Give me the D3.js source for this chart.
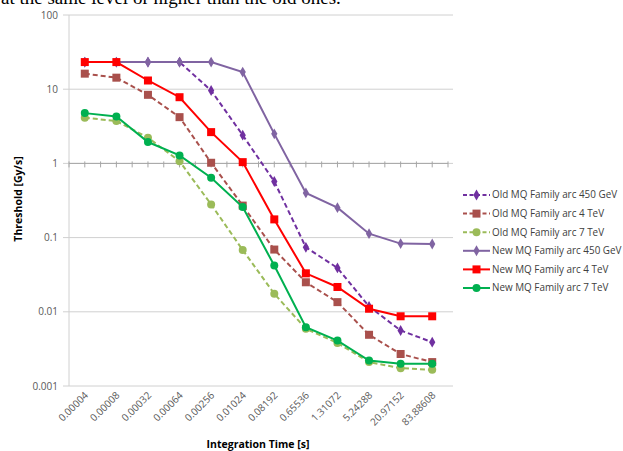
<!DOCTYPE html>
<html>
<head>
<meta charset="UTF-8">
<title>Threshold vs Integration Time</title>
<script src="https://d3js.org/d3.v7.min.js"></script>
<style>
  body { margin: 0; background: #fff; }
  svg { display: block; }
  .lbl { font-family: "Open Sans", "Liberation Sans", sans-serif; fill: #595959; font-size: 10px; }
</style>
</head>
<body>
<script>
// ===== DATA =====
var times = ["0.00004", "0.00008", "0.00032", "0.00064", "0.00256", "0.01024",
             "0.08192", "0.65536", "1.31072", "5.24288", "20.97152", "83.88608"];
var yTicks = [100, 10, 1, 0.1, 0.01, 0.001];
var yTickLabels = ["100", "10", "1", "0.1", "0.01", "0.001"];

var seriesNames = ["Old MQ Family arc 450 GeV", "Old MQ Family arc 4 TeV", "Old MQ Family arc 7 TeV",
                   "New MQ Family arc 450 GeV", "New MQ Family arc 4 TeV", "New MQ Family arc 7 TeV"];
var old450 = [23.2, 23.2, 23.2, 23.2, 9.6, 2.4, 0.57, 0.074, 0.039, 0.0118, 0.0056, 0.0039];
var old4   = [16.2, 14.3, 8.4, 4.2, 1.02, 0.27, 0.069, 0.025, 0.0135, 0.0049, 0.0027, 0.0021];
var old7   = [4.13, 3.72, 2.22, 1.07, 0.28, 0.068, 0.0175, 0.0059, 0.0038, 0.0021, 0.00174, 0.00165];
var new450 = [23.2, 23.2, 23.2, 23.2, 23.2, 17, 2.5, 0.40, 0.253, 0.113, 0.083, 0.082];
var new4   = [23.2, 23.2, 13.1, 7.8, 2.64, 1.04, 0.176, 0.033, 0.0216, 0.011, 0.0087, 0.0087];
var new7   = [4.76, 4.3, 1.94, 1.28, 0.64, 0.258, 0.042, 0.0062, 0.0041, 0.0022, 0.0020, 0.0020];

var seriesValues = [old450, old4, old7, new450, new4, new7];
var colors = ["#7030A0", "#A9504C", "#9BBB59", "#8064A2", "#FF0000", "#00B050"];
var dashed = [true, true, true, false, false, false];
var markers = ["diamond", "square", "circle", "diamond", "square", "circle"];

var W = 623, H = 451;
var svg = d3.select("body").append("svg").attr("width", W).attr("height", H);

// cropped caption line from the document above the chart
svg.append("text")
  .attr("x", 1).attr("y", 4)
  .style("font-family", "'Liberation Serif', 'DejaVu Serif', serif")
  .style("font-size", "19px").style("fill", "#000")
  .text("at the same level or higher than the old ones.");

//=====SCALES=====
var x = d3.scaleBand().domain(times).range([69, 448]);
var y = d3.scaleLog().domain([0.001, 100]).range([386, 15]);
var cx = function(i) { return x(times[i]) + x.bandwidth() / 2; };

//=====GRID=====
svg.append("g").selectAll("line").data(yTicks).enter().append("line")
  .attr("x1", 63).attr("x2", 453)
  .attr("y1", function(d) { return y(d); }).attr("y2", function(d) { return y(d); })
  .attr("stroke", "#d0d0d0").attr("stroke-width", 1);

// y axis line
svg.append("line").attr("x1", 69).attr("x2", 69).attr("y1", y(100)).attr("y2", y(0.001))
  .attr("stroke", "#d0d0d0");

// y labels
svg.append("g").selectAll("text").data(yTicks).enter().append("text")
  .attr("class", "lbl")
  .attr("x", 58).attr("y", function(d) { return y(d); })
  .attr("dy", "0.35em").attr("text-anchor", "end")
  .text(function(d, i) { return yTickLabels[i]; });

// horizontal axis crosses at 1, with tick marks
var tickXs = d3.range(times.length * 2 + 1).map(function(k) { return 69 + k * x.bandwidth() / 2; });
svg.append("line").attr("x1", 69).attr("x2", 448).attr("y1", y(1)).attr("y2", y(1))
  .attr("stroke", "#a6a6a6");
svg.append("g").selectAll("line").data(tickXs).enter().append("line")
  .attr("x1", function(d) { return d; }).attr("x2", function(d) { return d; })
  .attr("y1", y(1) - 2).attr("y2", y(1) + 4)
  .attr("stroke", "#a6a6a6");

// x labels at bottom, rotated
svg.append("g").selectAll("text").data(times).enter().append("text")
  .attr("class", "lbl")
  .attr("text-anchor", "end")
  .attr("transform", function(d, i) { return "translate(" + (cx(i) + 4) + ",396) rotate(-45)"; })
  .text(function(d) { return d; });

// axis titles
svg.append("text").attr("x", 258).attr("y", 448).attr("text-anchor", "middle")
  .style("font-family", "'Open Sans', sans-serif").style("font-weight", "bold")
  .style("font-size", "10.5px").style("fill", "#000")
  .text("Integration Time [s]");
svg.append("text").attr("transform", "translate(22,199) rotate(-90)").attr("text-anchor", "middle")
  .style("font-family", "'Open Sans', sans-serif").style("font-weight", "bold")
  .style("font-size", "10.5px").style("fill", "#000")
  .text("Threshold [Gy/s]");

//=====MARKERS=====
function drawMarker(g, type, px, py, color) {
  if (type === "square") {
    g.append("rect").attr("x", px - 4).attr("y", py - 4).attr("width", 8).attr("height", 8)
      .attr("fill", color);
  } else if (type === "circle") {
    g.append("circle").attr("cx", px).attr("cy", py).attr("r", 4).attr("fill", color);
  } else {
    g.append("path").attr("d", d3.symbol().type(d3.symbolDiamond).size(34)())
      .attr("transform", "translate(" + px + "," + py + ")").attr("fill", color);
  }
}

//=====SERIES=====
var line = d3.line()
  .x(function(d, i) { return cx(i); })
  .y(function(d) { return y(d); });

seriesValues.forEach(function(vals, s) {
  var g = svg.append("g");
  g.append("path").attr("d", line(vals))
    .attr("fill", "none").attr("stroke", colors[s]).attr("stroke-width", 2)
    .attr("stroke-dasharray", dashed[s] ? "5,3" : null);
  vals.forEach(function(v, i) { drawMarker(g, markers[s], cx(i), y(v), colors[s]); });
});

//=====LEGEND=====
var lg = svg.append("g");
seriesNames.forEach(function(name, s) {
  var ly = 195 + s * 18.6;
  lg.append("line").attr("x1", 463).attr("x2", 490).attr("y1", ly).attr("y2", ly)
    .attr("stroke", colors[s]).attr("stroke-width", 2)
    .attr("stroke-dasharray", dashed[s] ? "4,2.5" : null);
  drawMarker(lg, markers[s], 476.5, ly, colors[s]);
  lg.append("text").attr("x", 492).attr("y", ly).attr("dy", "0.35em")
    .style("font-family", "'Open Sans', sans-serif").style("font-size", "9.9px").style("fill", "#404040")
    .text(name);
});
</script>
</body>
</html>
